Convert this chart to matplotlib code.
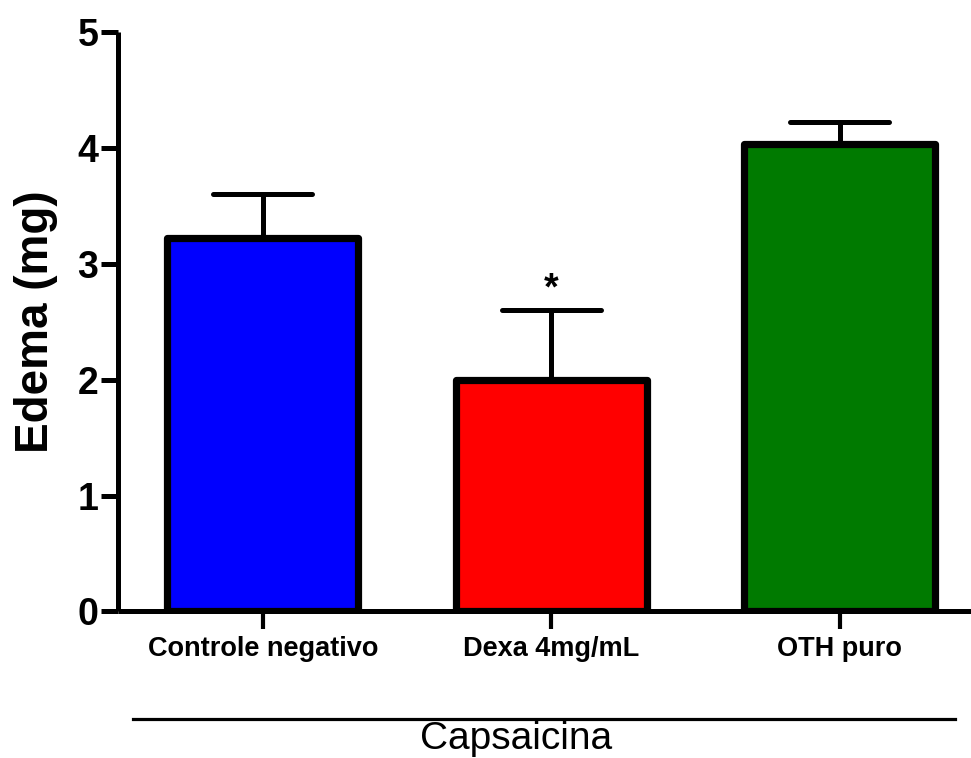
import matplotlib
matplotlib.use("Agg")
import matplotlib.pyplot as plt
from matplotlib.lines import Line2D

categories = ["Controle negativo", "Dexa 4mg/mL", "OTH puro"]
means = [3.22, 2.00, 4.03]
err_upper = [3.60, 2.60, 4.22]
colors = ["#0000FF", "#FF0000", "#007A00"]
yticks = [0, 1, 2, 3, 4, 5]
group_label = "Capsaicina"
ylabel = "Edema (mg)"
sig_marks = ["", "*", ""]

plt.rcParams['font.family'] = ['Liberation Sans', 'DejaVu Sans']

fig = plt.figure(figsize=(9.71, 7.58), dpi=100)
ax = fig.add_axes([0.122, 0.1933, 0.878, 0.765])

x = list(range(len(categories)))
# error bars (upper only), behind bars
for xi, m, e in zip(x, means, err_upper):
    ax.vlines(xi, m, e, color="black", lw=3.6, zorder=1, capstyle="butt")
    ax.hlines(e, xi - 0.172, xi + 0.172, color="black", lw=3.6, zorder=1,
              capstyle="round")

bars = ax.bar(x, means, width=0.663, color=colors, edgecolor="black",
              linewidth=5.2, zorder=2)
for b in bars:
    b.set_joinstyle("round")

for xi, e, s in zip(x, err_upper, sig_marks):
    if s:
        ax.text(xi, e + 0.02, s, ha="center", va="bottom", fontsize=27,
                fontweight="bold")

ax.set_xlim(-0.5, 2.455)
ax.set_ylim(0, 5)
ax.set_yticks(yticks)
ax.set_yticklabels([str(t) for t in yticks], fontsize=27, fontweight="bold")
ax.set_xticks(x)
ax.set_xticklabels(categories, fontsize=19.5, fontweight="bold")

for side in ["top", "right"]:
    ax.spines[side].set_visible(False)
for side in ["left", "bottom"]:
    ax.spines[side].set_linewidth(3.6)
    ax.spines[side].set_capstyle("butt")

ax.tick_params(axis="y", length=12.5, width=3.6, pad=2)
ax.tick_params(axis="x", length=13, width=3.0, pad=5)

ax.set_ylabel(ylabel, fontsize=33, fontweight="bold", labelpad=14)

# group line and label
line = Line2D([133 / 971, 955 / 971], [1 - 719 / 758, 1 - 719 / 758],
              transform=fig.transFigure, color="black", lw=2.3)
fig.add_artist(line)
fig.text(516 / 971, 1 - 739 / 758, group_label, ha="center", va="center",
         fontsize=28)

fig.savefig("out.png", dpi=100, facecolor="white")
